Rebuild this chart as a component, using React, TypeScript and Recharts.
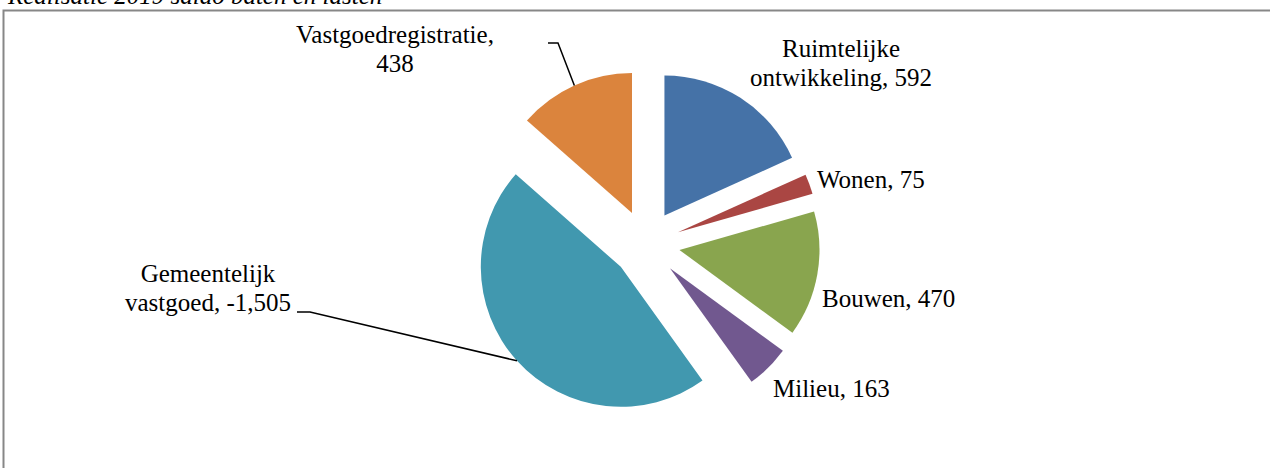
import { PieChart, Pie, Cell, Sector } from "recharts";

const categories = [
  "Ruimtelijke ontwikkeling",
  "Wonen",
  "Bouwen",
  "Milieu",
  "Gemeentelijk vastgoed",
  "Vastgoedregistratie",
];
const values = [592, 75, 470, 163, -1505, 438];
const colors = ["#4572A7", "#AA4643", "#89A54E", "#71588F", "#4198AF", "#DB843D"];

const TITLE = "Realisatie 2019 saldo baten en lasten";
const FONT = "'Liberation Serif', 'Times New Roman', serif";
const EXPLODE = 34;
const RADIUS = 140;
const CX = 646;
const CY = 244;

// label placement relative to the pie centre (hand-tuned like excel)
const labelLayout = [
  { dx: 195, dy: -187, anchor: "middle", breakAfter: 1 },
  { dx: 171, dy: -56, anchor: "start", breakAfter: 0 },
  { dx: 176, dy: 63, anchor: "start", breakAfter: 0 },
  { dx: 127, dy: 153, anchor: "start", breakAfter: 0 },
  { dx: -438, dy: 38, anchor: "middle", breakAfter: 1, leader: [[-349, 68], [-336, 68]] },
  { dx: -251, dy: -201, anchor: "middle", breakAfter: 1, leader: [[-98, -201], [-88, -201]] },
];

const fmt = (v: number) => v.toLocaleString("en-US");

const data = categories.map((name, i) => ({
  name,
  value: values[i],
  size: Math.abs(values[i]),
}));

const RAD = Math.PI / 180;

function ExplodedSector(props: any) {
  const { cx, cy, midAngle } = props;
  const a = -midAngle * RAD;
  return <Sector {...props} cx={cx + EXPLODE * Math.cos(a)} cy={cy + EXPLODE * Math.sin(a)} />;
}

function renderLabel(props: any) {
  const { midAngle, index, outerRadius } = props;
  const cx = props.cx ?? CX;
  const cy = props.cy ?? CY;
  const lay = labelLayout[index];
  const d = data[index];
  const words = `${d.name}, ${fmt(d.value)}`.split(" ");
  const lines = lay.breakAfter
    ? [words.slice(0, lay.breakAfter).join(" "), words.slice(lay.breakAfter).join(" ")]
    : [words.join(" ")];
  const a = -midAngle * RAD;
  // leader ends on the middle of the exploded slice's arc
  const ex = cx + (EXPLODE + outerRadius) * Math.cos(a);
  const ey = cy + (EXPLODE + outerRadius) * Math.sin(a);
  return (
    <g key={`lbl-${index}`}>
      {lay.leader && (
        <polyline
          points={[...lay.leader.map(([x, y]) => `${cx + x},${cy + y}`), `${ex},${ey}`].join(" ")}
          fill="none"
          stroke="#000"
          strokeWidth={1.5}
        />
      )}
      <text
        x={cx + lay.dx}
        y={cy + lay.dy}
        textAnchor={lay.anchor as any}
        fontFamily={FONT}
        fontSize={25}
        fill="#000"
      >
        {lines.map((l, k) => (
          <tspan key={k} x={cx + lay.dx} dy={k === 0 ? 0 : 29}>
            {l}
          </tspan>
        ))}
      </text>
    </g>
  );
}

export default function App() {
  return (
    <div
      style={{
        position: "fixed",
        left: 0,
        top: 0,
        width: 1270,
        height: 468,
        overflow: "hidden",
        background: "#fff",
      }}
    >
      <svg width={1270} height={468} style={{ position: "absolute", left: 0, top: 0 }}>
        <text x={8} y={4} fontFamily={FONT} fontStyle="italic" fontSize={25} fill="#000">
          {TITLE}
        </text>
        <rect x={3.5} y={10.5} width={1400} height={600} fill="none" stroke="#878787" strokeWidth={2} />
      </svg>
      <div style={{ position: "absolute", left: 0, top: 0 }}>
        <PieChart width={1270} height={468} margin={{ top: 0, right: 0, bottom: 0, left: 0 }}>
          <Pie
            data={data}
            dataKey="size"
            nameKey="name"
            cx={CX}
            cy={CY}
            outerRadius={RADIUS}
            startAngle={90}
            endAngle={-270}
            stroke="none"
            shape={ExplodedSector}
            label={renderLabel}
            labelLine={false}
            isAnimationActive={false}
          >
            {data.map((_, i) => (
              <Cell key={i} fill={colors[i]} />
            ))}
          </Pie>
        </PieChart>
      </div>
    </div>
  );
}
